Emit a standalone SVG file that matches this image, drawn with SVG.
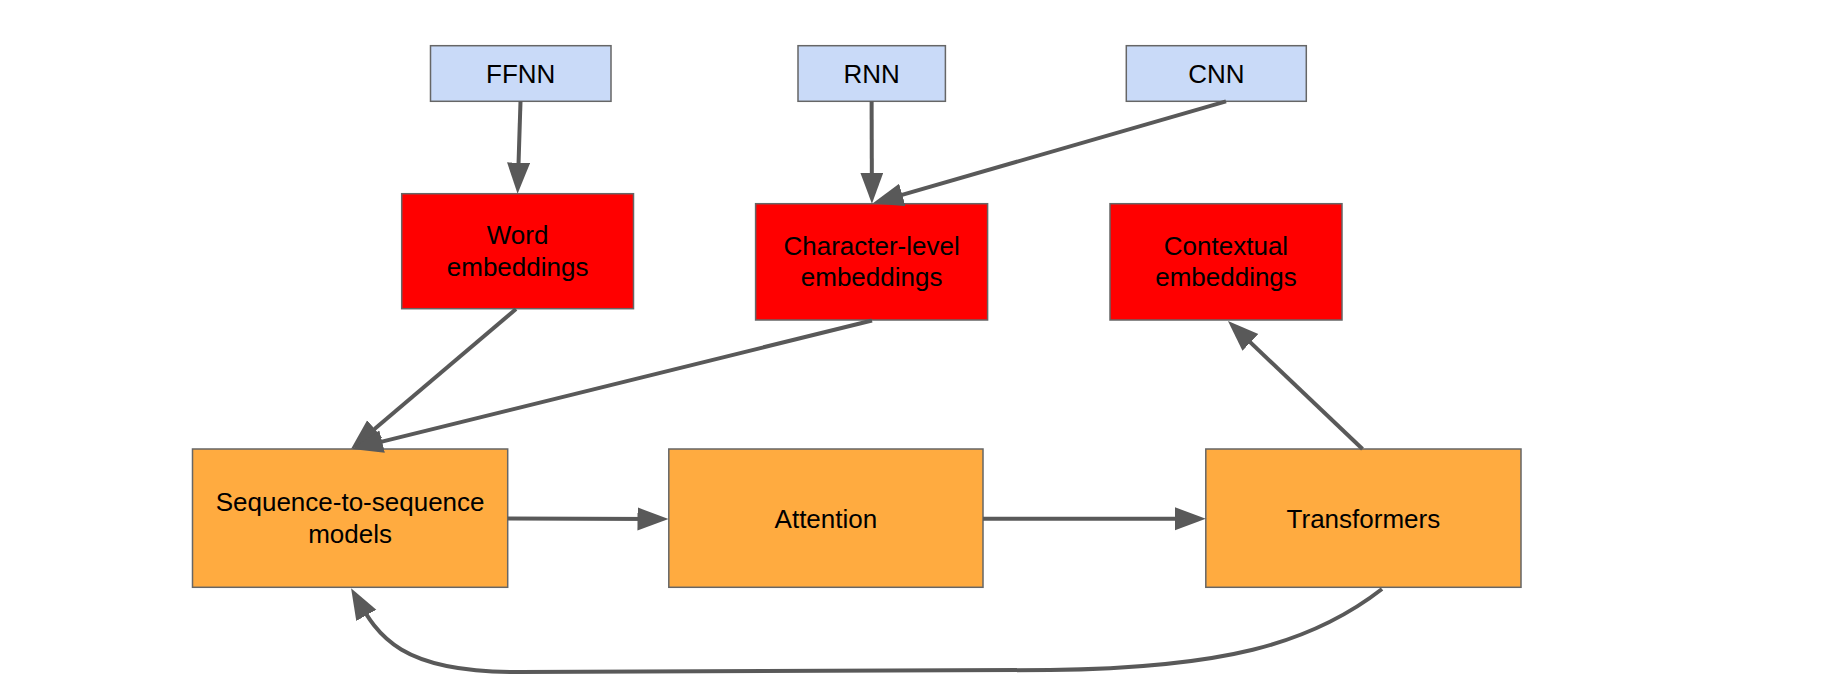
<svg xmlns="http://www.w3.org/2000/svg" width="1825" height="676" viewBox="0 0 1825 676">
<style>
.box{stroke:#666666;stroke-width:1.5}
.blue{fill:#c9daf8}
.red{fill:#ff0000}
.orange{fill:#ffab40}
text{font-family:"Liberation Sans",Arial,sans-serif;font-size:26px;fill:#000;text-anchor:middle}
.edge{fill:none;stroke:#595959;stroke-width:4;marker-end:url(#arr)}
</style>
<defs>
<marker id="arr" markerUnits="userSpaceOnUse" markerWidth="32" markerHeight="24" refX="21" refY="11.5" orient="auto" viewBox="0 0 32 24">
<path d="M0,0 L31,11.5 L0,23 Z" fill="#595959"/>
</marker>
</defs>
<rect width="1825" height="676" fill="#ffffff"/>
<g id="ffnn"><rect class="box blue" x="430.5" y="45.7" width="180.5" height="55.6"/><text x="520.7" y="83">FFNN</text></g>
<g id="rnn"><rect class="box blue" x="798" y="45.7" width="147.4" height="55.6"/><text x="871.7" y="83">RNN</text></g>
<g id="cnn"><rect class="box blue" x="1126.3" y="45.7" width="180" height="55.6"/><text x="1216.3" y="83">CNN</text></g>
<g id="word"><rect class="box red" x="401.7" y="193.7" width="231.8" height="115"/><text x="517.6" y="244.3">Word</text><text x="517.6" y="275.8">embeddings</text></g>
<g id="char"><rect class="box red" x="755.6" y="203.7" width="232" height="116.3"/><text x="871.6" y="255">Character-level</text><text x="871.6" y="286.3">embeddings</text></g>
<g id="ctx"><rect class="box red" x="1110" y="203.7" width="232" height="116.3"/><text x="1226" y="255">Contextual</text><text x="1226" y="286.3">embeddings</text></g>
<g id="seq"><rect class="box orange" x="192.5" y="449" width="315.2" height="138.3"/><text x="350.1" y="511">Sequence-to-sequence</text><text x="350.1" y="542.7">models</text></g>
<g id="att"><rect class="box orange" x="668.8" y="449" width="314.2" height="138.3"/><text x="825.9" y="527.7">Attention</text></g>
<g id="trans"><rect class="box orange" x="1205.8" y="449" width="315.2" height="138.3"/><text x="1363.4" y="527.7">Transformers</text></g>
<g id="connectors">
<path class="edge" d="M520.5,101.3 L517.9,183.7"/>
<path class="edge" d="M871.6,101.3 L871.9,193.7"/>
<path class="edge" d="M1226,101.3 L882.1,200.7"/>
<path class="edge" d="M516,309 L358.6,442.5"/>
<path class="edge" d="M872,320.5 L361.7,446.6"/>
<path class="edge" d="M507.7,518.5 L658.5,519"/>
<path class="edge" d="M983,518.7 L1195.8,518.7"/>
<path class="edge" d="M1362.5,449 L1235.2,327.9"/>
<path class="edge" d="M1382,589 C1310,645 1220,668 1050,670 L520,672 C400,673 378,636 356,597"/>
</g>
</svg>
